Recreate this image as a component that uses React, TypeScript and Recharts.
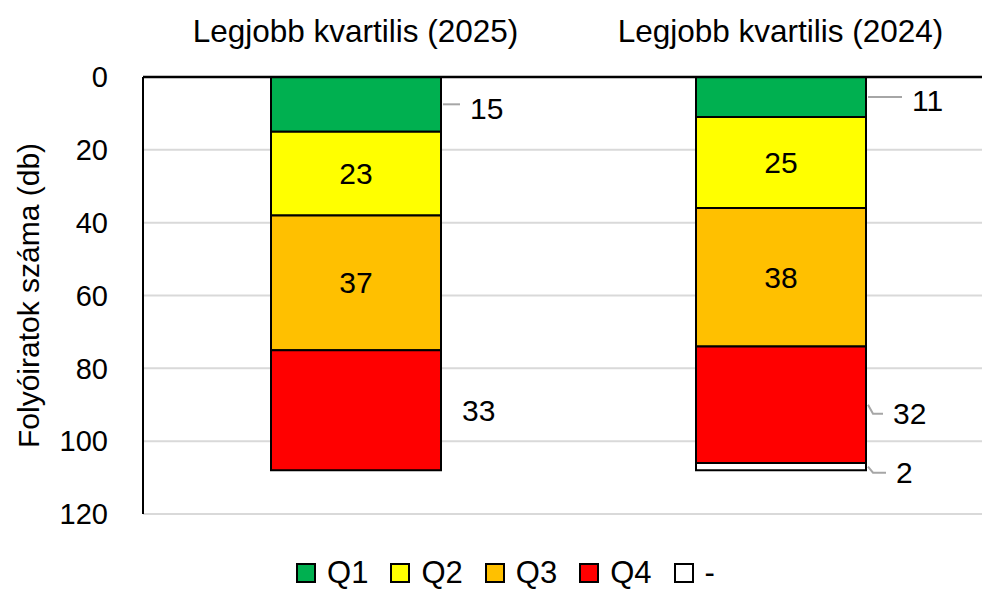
import React from 'react';
import {
  BarChart, Bar, XAxis, YAxis, CartesianGrid, Legend, LabelList, Label
} from 'recharts';

const categories = ['Legjobb kvartilis (2025)', 'Legjobb kvartilis (2024)'];
const q1 = [15, 11];
const q2 = [23, 25];
const q3 = [37, 38];
const q4 = [33, 32];
const dash = [0, 2];
const yTicks = [0, 20, 40, 60, 80, 100, 120];

const FONT = '"Liberation Sans", Arial, sans-serif';

const series = [
  { key: 'Q1', name: 'Q1', fill: '#00B050', values: q1 },
  { key: 'Q2', name: 'Q2', fill: '#FFFF00', values: q2 },
  { key: 'Q3', name: 'Q3', fill: '#FFC000', values: q3 },
  { key: 'Q4', name: 'Q4', fill: '#FF0000', values: q4 },
  { key: 'dash', name: '-', fill: '#FFFFFF', values: dash },
];

const data = categories.map((c, i) => {
  const row: any = { cat: c };
  series.forEach((s) => { row[s.key] = s.values[i]; });
  return row;
});

// label placement per series & category (outside labels sit right of the bar)
const outside: Record<string, ({ gap: number; dy: number; leader: boolean } | null)[]> = {
  Q1: [{ gap: 29, dy: 4, leader: true }, { gap: 46, dy: 3, leader: true }],
  Q2: [null, null],
  Q3: [null, null],
  Q4: [{ gap: 21, dy: 0, leader: false }, { gap: 27, dy: 9, leader: true }],
  dash: [null, { gap: 30, dy: 6, leader: true }],
};

// the LabelList reads the category name, so the index is stable even when a segment is empty
const makeLabel = (s: typeof series[number]) => (props: any) => {
  const { x, y, width, height, value } = props;
  const idx = categories.indexOf(value);
  const v = s.values[idx];
  if (!v) return null;
  const cfg = outside[s.key][idx];
  const cy = y + height / 2;
  if (!cfg) {
    return (
      <text x={x + width / 2} y={cy} textAnchor="middle" dominantBaseline="central"
        fontFamily={FONT} fontSize={30} fill="#000">{v}</text>
    );
  }
  const right = x + width;
  const tx = right + cfg.gap;
  const ty = cy + cfg.dy;
  let leader = null;
  if (cfg.leader) {
    const pts = cfg.dy > 4
      ? `${right + 2},${cy} ${right + 7},${ty} ${tx - 10},${ty}`
      : `${right + 2},${cy} ${tx - 10},${cy}`;
    leader = <polyline points={pts} fill="none" stroke="#a6a6a6" strokeWidth={2} />;
  }
  return (
    <g>
      {leader}
      <text x={tx} y={ty} textAnchor="start" dominantBaseline="central"
        fontFamily={FONT} fontSize={30} fill="#000">{v}</text>
    </g>
  );
};

const TopTick = (props: any) => {
  const { x, payload } = props;
  return (
    <text x={x} y={42} textAnchor="middle" fontFamily={FONT} fontSize={31.5} fill="#000">
      {payload.value}
    </text>
  );
};

const YTitle = (props: any) => {
  const { viewBox } = props;
  const cx = viewBox.x + 28;
  const cy = viewBox.y + viewBox.height / 2;
  return (
    <text x={cx} y={cy} transform={`rotate(-90, ${cx}, ${cy})`} textAnchor="middle"
      dominantBaseline="central" fontFamily={FONT} fontSize={30} fill="#000">
      Folyóiratok száma (db)
    </text>
  );
};

const LegendContent = () => (
  <div style={{ height: 78, display: 'flex', justifyContent: 'center', alignItems: 'flex-end', paddingLeft: 18, boxSizing: 'border-box' }}>
    <div style={{ display: 'flex', gap: 22, alignItems: 'center', height: 34, marginBottom: 2 }}>
      {series.map((s) => (
        <div key={s.key} style={{ display: 'flex', alignItems: 'center', gap: 11 }}>
          <span style={{ width: 16, height: 16, background: s.fill, border: '2px solid #000', display: 'inline-block' }} />
          <span style={{ fontFamily: FONT, fontSize: 31, color: '#000', lineHeight: '34px' }}>{s.name}</span>
        </div>
      ))}
    </div>
  </div>
);

export default function App() {
  return (
    <div style={{ position: 'absolute', left: 0, top: 0, width: 982, height: 592, overflow: 'hidden', background: '#fff' }}>
      <BarChart width={994} height={592} data={data} barSize={170}
        margin={{ top: 0, right: 1, left: 0, bottom: 0 }}>
        <CartesianGrid vertical={false} stroke="#d9d9d9" strokeWidth={2} />
        <XAxis dataKey="cat" orientation="top" height={77} tick={<TopTick />}
          tickLine={false} axisLine={{ stroke: '#000', strokeWidth: 2.5 }} interval={0} />
        <YAxis reversed domain={[0, 120]} ticks={yTicks} width={143}
          tick={{ fill: '#000', fontSize: 29, fontFamily: FONT }} tickLine={false} tickSize={0} tickMargin={35}
          axisLine={{ stroke: '#000', strokeWidth: 2 }}>
          <Label content={<YTitle />} />
        </YAxis>
        <Legend verticalAlign="bottom" content={<LegendContent />} />
        {series.map((s) => (
          <Bar key={s.key} dataKey={s.key} name={s.name} stackId="a" fill={s.fill}
            stroke="#000" strokeWidth={2} isAnimationActive={false}>
            <LabelList dataKey="cat" content={makeLabel(s)} />
          </Bar>
        ))}
      </BarChart>
    </div>
  );
}
